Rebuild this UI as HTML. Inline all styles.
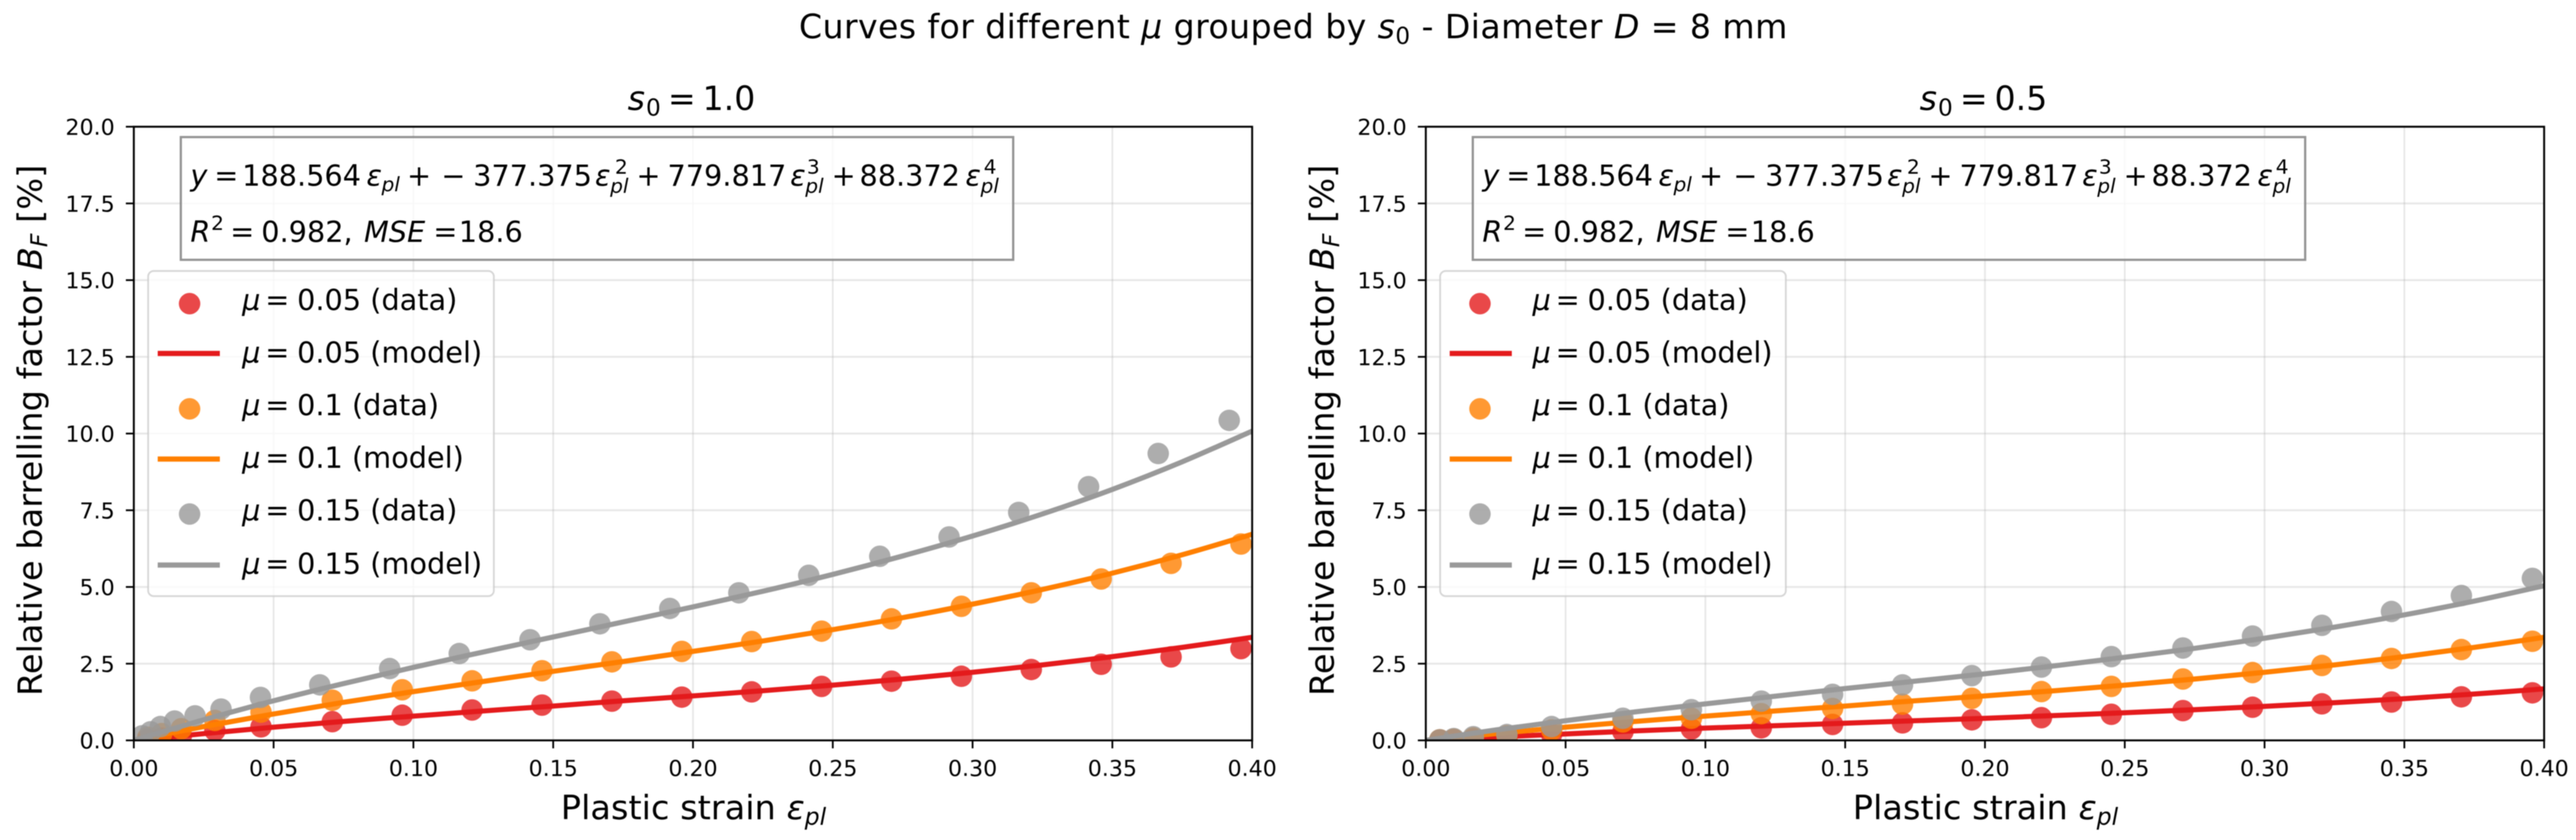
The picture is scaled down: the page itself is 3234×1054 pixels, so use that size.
<!DOCTYPE html>
<html lang="en">
<head>
<meta charset="utf-8">
<title>Curves for different mu grouped by s0</title>
<style>
html,body{margin:0;padding:0;background:#fff;width:3234px;height:1054px;overflow:hidden}
svg{display:block;filter:blur(0.6px)}
text{font-family:"DejaVu Sans","Liberation Sans",sans-serif;fill:#000}
.i{font-style:italic}
.sm{font-size:25.3px}
.eq,.leg{font-size:36.1px}
.ttl{font-size:41.67px}
.lab{font-size:42.2px}
.tick{font-size:27.78px}
</style>
</head>
<body>
<svg id="figure" xmlns="http://www.w3.org/2000/svg" width="3234" height="1054" viewBox="0 0 3234 1054">
<defs>
<clipPath id="clip-left"><rect x="168" y="159" width="1404" height="770"/></clipPath>
<clipPath id="clip-right"><rect x="1790" y="159" width="1404" height="770"/></clipPath>
</defs>
<rect x="0" y="0" width="3234" height="1054" fill="#fff"/>

<text x="1003" y="48" style="font-size:41.67px;letter-spacing:0.5px">Curves for different <tspan class="i">μ</tspan> grouped by <tspan class="i">s</tspan><tspan style="font-size:29.2px" dy="7">0</tspan><tspan dy="-7"> - Diameter </tspan><tspan class="i">D</tspan> = 8 mm</text>

<g id="axes-left"></g>
<g id="axes-right"></g>

<!-- Left panel text -->
<text class="ttl" x="788" y="138"><tspan class="i">s</tspan><tspan style="font-size:29.2px" dy="7" x="811">0</tspan><tspan dy="-7" x="838.5">=</tspan><tspan x="882">1.0</tspan></text>
<text class="lab" x="704" y="1028">Plastic strain <tspan class="i">ε</tspan><tspan class="i" style="font-size:29.5px" dy="7">pl</tspan></text>
<text class="lab" transform="translate(52.5 540) rotate(-90)" text-anchor="middle">Relative barrelling factor <tspan class="i">B</tspan><tspan class="i" style="font-size:29.5px" dy="7">F</tspan><tspan dy="-7"> [%]</tspan></text>

<g>
<rect x="227" y="172" width="1045" height="154" fill="#fff" fill-opacity="0.8" stroke="#808080" stroke-opacity="0.85" stroke-width="2.8"/>
<text class="eq" y="233"><tspan class="i" x="239">y</tspan><tspan x="269">=</tspan><tspan x="304">188.564</tspan><tspan class="i" x="460">ε</tspan><tspan class="i sm" x="479" dy="7">pl</tspan><tspan x="511" dy="-7">+</tspan><tspan x="554">−</tspan><tspan x="594">377.375</tspan><tspan class="i" x="747">ε</tspan><tspan class="sm" x="772" dy="-15">2</tspan><tspan class="i sm" x="766" dy="24">pl</tspan><tspan x="799" dy="-9">+</tspan><tspan x="838">779.817</tspan><tspan class="i" x="992">ε</tspan><tspan class="sm" x="1013" dy="-15">3</tspan><tspan class="i sm" x="1011" dy="24">pl</tspan><tspan x="1044" dy="-9">+</tspan><tspan x="1079">88.372</tspan><tspan class="i" x="1212">ε</tspan><tspan class="sm" x="1235" dy="-15">4</tspan><tspan class="i sm" x="1231" dy="24">pl</tspan></text>
<text class="eq" y="303.5"><tspan class="i" x="239">R</tspan><tspan class="sm" x="265" dy="-15">2</tspan><tspan x="289" dy="15">=</tspan><tspan x="328">0.982,</tspan><tspan class="i" x="457">MSE</tspan><tspan x="544">=</tspan><tspan x="576">18.6</tspan></text>
</g>

<g>
<rect x="186" y="340" width="434" height="408" rx="7" ry="7" fill="#fff" fill-opacity="0.8" stroke="#cccccc" stroke-opacity="0.8" stroke-width="2.2"/>
<circle cx="238" cy="381" r="13.5" fill="#e41a1c" fill-opacity="0.8"/>
<line x1="198" x2="276" y1="443.5" y2="443.5" stroke="#e41a1c" stroke-width="6.4"/>
<circle cx="238" cy="513" r="13.5" fill="#ff7f00" fill-opacity="0.8"/>
<line x1="198" x2="276" y1="576" y2="576" stroke="#ff7f00" stroke-width="6.4"/>
<circle cx="238" cy="645" r="13.5" fill="#999999" fill-opacity="0.8"/>
<line x1="198" x2="276" y1="709" y2="709" stroke="#999999" stroke-width="6.4"/>
<text class="leg" y="389"><tspan class="i" x="304">μ</tspan><tspan x="333">=</tspan><tspan x="373">0.05 (data)</tspan></text>
<text class="leg" y="455"><tspan class="i" x="304">μ</tspan><tspan x="333">=</tspan><tspan x="373">0.05 (model)</tspan></text>
<text class="leg" y="521"><tspan class="i" x="304">μ</tspan><tspan x="333">=</tspan><tspan x="373">0.1 (data)</tspan></text>
<text class="leg" y="587"><tspan class="i" x="304">μ</tspan><tspan x="333">=</tspan><tspan x="373">0.1 (model)</tspan></text>
<text class="leg" y="653"><tspan class="i" x="304">μ</tspan><tspan x="333">=</tspan><tspan x="373">0.15 (data)</tspan></text>
<text class="leg" y="720"><tspan class="i" x="304">μ</tspan><tspan x="333">=</tspan><tspan x="373">0.15 (model)</tspan></text>
</g>

<!-- Right panel text -->
<g transform="translate(1622 0)">
<text class="ttl" x="788" y="138"><tspan class="i">s</tspan><tspan style="font-size:29.2px" dy="7" x="811">0</tspan><tspan dy="-7" x="838.5">=</tspan><tspan x="882">0.5</tspan></text>
<text class="lab" x="704" y="1028">Plastic strain <tspan class="i">ε</tspan><tspan class="i" style="font-size:29.5px" dy="7">pl</tspan></text>
<text class="lab" transform="translate(52.5 540) rotate(-90)" text-anchor="middle">Relative barrelling factor <tspan class="i">B</tspan><tspan class="i" style="font-size:29.5px" dy="7">F</tspan><tspan dy="-7"> [%]</tspan></text>

<g>
<rect x="227" y="172" width="1045" height="154" fill="#fff" fill-opacity="0.8" stroke="#808080" stroke-opacity="0.85" stroke-width="2.8"/>
<text class="eq" y="233"><tspan class="i" x="239">y</tspan><tspan x="269">=</tspan><tspan x="304">188.564</tspan><tspan class="i" x="460">ε</tspan><tspan class="i sm" x="479" dy="7">pl</tspan><tspan x="511" dy="-7">+</tspan><tspan x="554">−</tspan><tspan x="594">377.375</tspan><tspan class="i" x="747">ε</tspan><tspan class="sm" x="772" dy="-15">2</tspan><tspan class="i sm" x="766" dy="24">pl</tspan><tspan x="799" dy="-9">+</tspan><tspan x="838">779.817</tspan><tspan class="i" x="992">ε</tspan><tspan class="sm" x="1013" dy="-15">3</tspan><tspan class="i sm" x="1011" dy="24">pl</tspan><tspan x="1044" dy="-9">+</tspan><tspan x="1079">88.372</tspan><tspan class="i" x="1212">ε</tspan><tspan class="sm" x="1235" dy="-15">4</tspan><tspan class="i sm" x="1231" dy="24">pl</tspan></text>
<text class="eq" y="303.5"><tspan class="i" x="239">R</tspan><tspan class="sm" x="265" dy="-15">2</tspan><tspan x="289" dy="15">=</tspan><tspan x="328">0.982,</tspan><tspan class="i" x="457">MSE</tspan><tspan x="544">=</tspan><tspan x="576">18.6</tspan></text>
</g>

<g>
<rect x="186" y="340" width="434" height="408" rx="7" ry="7" fill="#fff" fill-opacity="0.8" stroke="#cccccc" stroke-opacity="0.8" stroke-width="2.2"/>
<circle cx="236" cy="381" r="13.5" fill="#e41a1c" fill-opacity="0.8"/>
<line x1="198" x2="276" y1="443.5" y2="443.5" stroke="#e41a1c" stroke-width="6.4"/>
<circle cx="236" cy="513" r="13.5" fill="#ff7f00" fill-opacity="0.8"/>
<line x1="198" x2="276" y1="576" y2="576" stroke="#ff7f00" stroke-width="6.4"/>
<circle cx="236" cy="645" r="13.5" fill="#999999" fill-opacity="0.8"/>
<line x1="198" x2="276" y1="709" y2="709" stroke="#999999" stroke-width="6.4"/>
<text class="leg" y="389"><tspan class="i" x="302">μ</tspan><tspan x="331">=</tspan><tspan x="371">0.05 (data)</tspan></text>
<text class="leg" y="455"><tspan class="i" x="302">μ</tspan><tspan x="331">=</tspan><tspan x="371">0.05 (model)</tspan></text>
<text class="leg" y="521"><tspan class="i" x="302">μ</tspan><tspan x="331">=</tspan><tspan x="371">0.1 (data)</tspan></text>
<text class="leg" y="587"><tspan class="i" x="302">μ</tspan><tspan x="331">=</tspan><tspan x="371">0.1 (model)</tspan></text>
<text class="leg" y="653"><tspan class="i" x="302">μ</tspan><tspan x="331">=</tspan><tspan x="371">0.15 (data)</tspan></text>
<text class="leg" y="720"><tspan class="i" x="302">μ</tspan><tspan x="331">=</tspan><tspan x="371">0.15 (model)</tspan></text>
</g>
</g>
</svg>

<script>
// Axis ticks
const xTicks = [0, 0.05, 0.10, 0.15, 0.20, 0.25, 0.30, 0.35, 0.40];
const xTickLabels = ['0.00', '0.05', '0.10', '0.15', '0.20', '0.25', '0.30', '0.35', '0.40'];
const yTicks = [0, 2.5, 5, 7.5, 10, 12.5, 15, 17.5, 20];
const yTickLabels = ['0.0', '2.5', '5.0', '7.5', '10.0', '12.5', '15.0', '17.5', '20.0'];

// s0 = 1.0 measured points
const leftStrain = [0.005, 0.01, 0.017, 0.029, 0.0455, 0.071, 0.096, 0.121, 0.146, 0.171, 0.196, 0.221, 0.246, 0.271, 0.296, 0.321, 0.346, 0.371, 0.396];
const leftRedData = [0.03, 0.07, 0.15, 0.32, 0.44, 0.61, 0.82, 0.99, 1.15, 1.28, 1.41, 1.58, 1.76, 1.93, 2.09, 2.31, 2.48, 2.72, 2.99];
const leftOrangeData = [0.10, 0.22, 0.38, 0.65, 0.92, 1.31, 1.65, 1.94, 2.27, 2.56, 2.90, 3.22, 3.56, 3.96, 4.37, 4.81, 5.26, 5.77, 6.40];
const leftGrayStrain = [0.003, 0.006, 0.0095, 0.0146, 0.0219, 0.0312, 0.0453, 0.0665, 0.0915, 0.1164, 0.1417, 0.1667, 0.1917, 0.2164, 0.2414, 0.2668, 0.2916, 0.3165, 0.3415, 0.3664, 0.3918];
const leftGrayData = [0.15, 0.28, 0.45, 0.63, 0.80, 1.02, 1.40, 1.81, 2.34, 2.83, 3.28, 3.80, 4.30, 4.81, 5.38, 6.00, 6.63, 7.43, 8.27, 9.35, 10.43];

// s0 = 0.5 measured points
const rightStrain = [0.005, 0.01, 0.017, 0.029, 0.045, 0.0705, 0.095, 0.12, 0.1455, 0.1705, 0.1953, 0.2202, 0.2452, 0.2708, 0.2957, 0.3205, 0.3454, 0.3704, 0.3958];
const rightRedData = [0.01, 0.02, 0.04, 0.07, 0.20, 0.28, 0.37, 0.41, 0.52, 0.57, 0.67, 0.74, 0.85, 0.97, 1.08, 1.19, 1.25, 1.42, 1.55];
const rightOrangeData = [0.02, 0.04, 0.08, 0.15, 0.34, 0.60, 0.72, 0.87, 1.04, 1.18, 1.37, 1.59, 1.76, 2.00, 2.21, 2.44, 2.67, 2.96, 3.23];
const rightGrayData = [0.02, 0.06, 0.12, 0.19, 0.45, 0.72, 1.00, 1.28, 1.50, 1.81, 2.11, 2.39, 2.73, 3.01, 3.40, 3.75, 4.20, 4.72, 5.28];

// Model curves, sampled along the strain axis
const modelStrain = [0, 0.025, 0.05, 0.075, 0.10, 0.125, 0.15, 0.175, 0.20, 0.225, 0.25, 0.275, 0.30, 0.325, 0.35, 0.375, 0.40];
const leftRedModel = [0, 0.22, 0.43, 0.62, 0.79, 0.96, 1.12, 1.29, 1.45, 1.62, 1.80, 2.00, 2.22, 2.46, 2.73, 3.03, 3.36];
const leftOrangeModel = [0, 0.45, 0.86, 1.24, 1.59, 1.92, 2.25, 2.57, 2.90, 3.24, 3.61, 4.00, 4.44, 4.92, 5.45, 6.05, 6.72];
const leftGrayModel = [0, 0.67, 1.29, 1.85, 2.38, 2.88, 3.37, 3.86, 4.35, 4.86, 5.41, 6.01, 6.66, 7.38, 8.18, 9.08, 10.08];
const rightRedModel = [0, 0.11, 0.21, 0.31, 0.40, 0.48, 0.56, 0.64, 0.72, 0.81, 0.90, 1.00, 1.11, 1.23, 1.36, 1.51, 1.68];
const rightOrangeModel = [0, 0.22, 0.43, 0.62, 0.79, 0.96, 1.12, 1.29, 1.45, 1.62, 1.80, 2.00, 2.22, 2.46, 2.73, 3.03, 3.36];
const rightGrayModel = [0, 0.34, 0.64, 0.93, 1.19, 1.44, 1.69, 1.93, 2.17, 2.43, 2.71, 3.00, 3.33, 3.69, 4.09, 4.54, 5.04];

const NS = 'http://www.w3.org/2000/svg';
const xMax = 0.4;
const yMax = 20;
const plotWidth = 1404;
const plotTop = 159;
const plotBottom = 929;

function make(tag, attrs, parent) {
  const el = document.createElementNS(NS, tag);
  for (const k in attrs) el.setAttribute(k, attrs[k]);
  parent.appendChild(el);
  return el;
}

function drawSeries(root, left, clipId, color, name, xs, ys, modelYs) {
  const sx = v => left + v / xMax * plotWidth;
  const sy = v => plotBottom - v / yMax * (plotBottom - plotTop);
  const clip = make('g', {'clip-path': 'url(#' + clipId + ')'}, root);
  
  
  xs.forEach((x, i) => {
    const dot = make('circle', {cx: sx(x), cy: sy(ys[i]), r: 13.5, fill: color, 'fill-opacity': 0.8}, clip);
    
    
  });
  const px = modelStrain.map(sx);
  const py = modelYs.map(sy);
  let d = 'M' + px[0] + ' ' + py[0];
  for (let i = 0; i < px.length - 1; i++) {
    const a = Math.max(i - 1, 0), b = Math.min(i + 2, px.length - 1);
    d += ' C' + (px[i] + (px[i + 1] - px[a]) / 6) + ' ' + (py[i] + (py[i + 1] - py[a]) / 6) + ' ' +
      (px[i + 1] - (px[b] - px[i]) / 6) + ' ' + (py[i + 1] - (py[b] - py[i]) / 6) + ' ' + px[i + 1] + ' ' + py[i + 1];
  }
  const curve = make('path', {d: d, fill: 'none', stroke: color, 'stroke-width': 6.4}, clip);
  
  
}

function drawGrid(root, left) {
  const sx = v => left + v / xMax * plotWidth;
  const sy = v => plotBottom - v / yMax * (plotBottom - plotTop);
  xTicks.forEach(v => {
    const g = make('line', {x1: sx(v), x2: sx(v), y1: plotTop, y2: plotBottom, stroke: '#b0b0b0', 'stroke-opacity': 0.3, 'stroke-width': 2.2}, root);
    
    
  });
  yTicks.forEach(v => {
    const g = make('line', {x1: left, x2: left + plotWidth, y1: sy(v), y2: sy(v), stroke: '#b0b0b0', 'stroke-opacity': 0.3, 'stroke-width': 2.2}, root);
    
    
  });
}

function drawFrame(root, left) {
  const sx = v => left + v / xMax * plotWidth;
  const sy = v => plotBottom - v / yMax * (plotBottom - plotTop);
  xTicks.forEach((v, i) => {
    const t = make('line', {x1: sx(v), x2: sx(v), y1: plotBottom, y2: plotBottom + 10, stroke: '#000', 'stroke-width': 2.2}, root);
    
    
    const l = make('text', {x: sx(v), y: 973.5, 'text-anchor': 'middle', class: 'tick'}, root);
    l.textContent = xTickLabels[i];
    
    
  });
  yTicks.forEach((v, i) => {
    const t = make('line', {x1: left - 10, x2: left, y1: sy(v), y2: sy(v), stroke: '#000', 'stroke-width': 2.2}, root);
    
    
    const l = make('text', {x: left - 24, y: sy(v) + 10, 'text-anchor': 'end', class: 'tick'}, root);
    l.textContent = yTickLabels[i];
    
    
  });
  const frame = make('rect', {x: left, y: plotTop, width: plotWidth, height: plotBottom - plotTop, fill: 'none', stroke: '#000', 'stroke-width': 2.4}, root);
  
  
}

const leftRoot = document.getElementById('axes-left');
drawGrid(leftRoot, 168);
drawSeries(leftRoot, 168, 'clip-left', '#e41a1c', 'mu-0-05', leftStrain, leftRedData, leftRedModel);
drawSeries(leftRoot, 168, 'clip-left', '#ff7f00', 'mu-0-10', leftStrain, leftOrangeData, leftOrangeModel);
drawSeries(leftRoot, 168, 'clip-left', '#999999', 'mu-0-15', leftGrayStrain, leftGrayData, leftGrayModel);
drawFrame(leftRoot, 168);

const rightRoot = document.getElementById('axes-right');
drawGrid(rightRoot, 1790);
drawSeries(rightRoot, 1790, 'clip-right', '#e41a1c', 'mu-0-05', rightStrain, rightRedData, rightRedModel);
drawSeries(rightRoot, 1790, 'clip-right', '#ff7f00', 'mu-0-10', rightStrain, rightOrangeData, rightOrangeModel);
drawSeries(rightRoot, 1790, 'clip-right', '#999999', 'mu-0-15', rightStrain, rightGrayData, rightGrayModel);
drawFrame(rightRoot, 1790);
</script>
</body>
</html>
